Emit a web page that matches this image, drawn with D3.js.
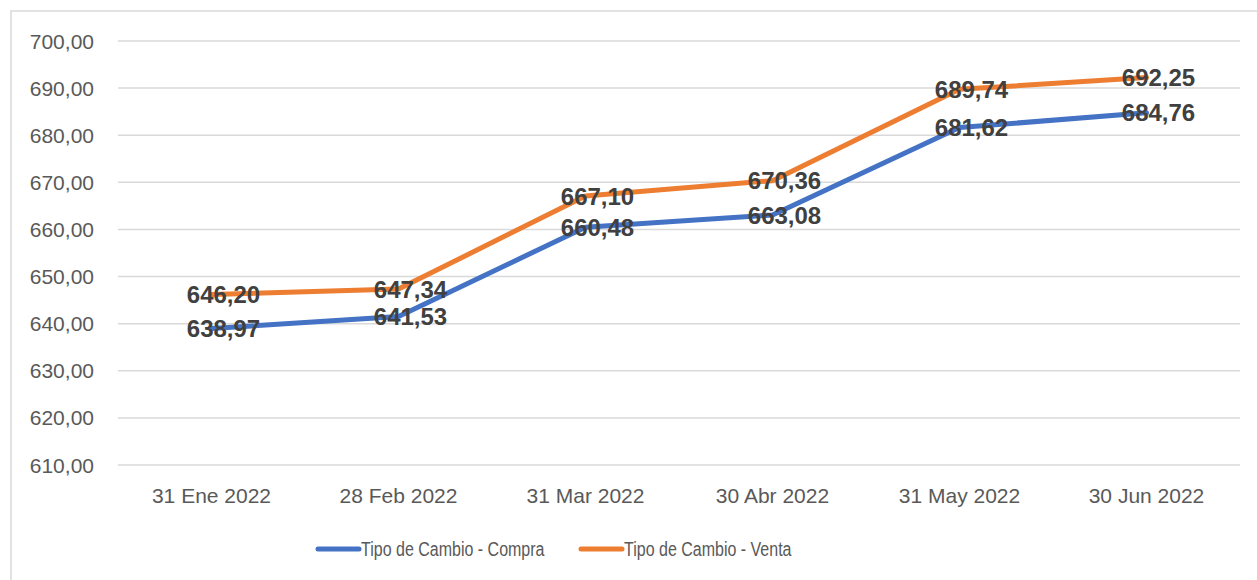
<!DOCTYPE html>
<html>
<head>
<meta charset="utf-8">
<script src="https://cdn.jsdelivr.net/npm/d3@7"></script>
<style>
  body { margin: 0; background: #fff; }
  svg { display: block; }
</style>
</head>
<body>
<div id="chart"></div>
<script>
var categories = ["31 Ene 2022", "28 Feb 2022", "31 Mar 2022", "30 Abr 2022", "31 May 2022", "30 Jun 2022"];
var compra = [638.97, 641.53, 660.48, 663.08, 681.62, 684.76];
var venta = [646.20, 647.34, 667.10, 670.36, 689.74, 692.25];
var yTicks = [610, 620, 630, 640, 650, 660, 670, 680, 690, 700];
var seriesNames = ["Tipo de Cambio - Compra", "Tipo de Cambio - Venta"];
var seriesColors = ["#4472C4", "#ED7D31"];

var width = 1257,
    height = 580;

var svg = d3.select("#chart")
    .append("svg")
    .attr("width", width)
    .attr("height", height);

// chart frame
svg.append("rect")
    .attr("x", 11).attr("y", 11)
    .attr("width", width + 20).attr("height", height + 20)
    .attr("fill", "none")
    .attr("stroke", "#D9D9D9")
    .attr("stroke-width", 1.5);

var plotLeft = 118, plotRight = 1240, plotTop = 41, plotBottom = 465;

var xScale = d3.scaleBand()
    .domain(categories)
    .range([plotLeft, plotRight]);

var yScale = d3.scaleLinear()
    .domain([610, 700])
    .range([plotBottom, plotTop]);

// gridlines
svg.append("g")
    .selectAll("line")
    .data(yTicks)
    .enter().append("line")
    .attr("x1", plotLeft).attr("x2", plotRight)
    .attr("y1", function (d) { return yScale(d); })
    .attr("y2", function (d) { return yScale(d); })
    .attr("stroke", "#D9D9D9")
    .attr("stroke-width", 1.5);

var fmt = function (v) { return d3.format(".2f")(v).replace(".", ","); };

// y labels
svg.append("g")
    .selectAll("text")
    .data(yTicks)
    .enter().append("text")
    .attr("x", 94)
    .attr("y", function (d) { return yScale(d); })
    .attr("dy", "0.36em")
    .attr("text-anchor", "end")
    .attr("font-family", "Liberation Sans, Arial, sans-serif")
    .attr("font-size", 21)
    .attr("fill", "#595959")
    .text(fmt);

// x labels
svg.append("g")
    .selectAll("text")
    .data(categories)
    .enter().append("text")
    .attr("x", function (d) { return xScale(d) + xScale.bandwidth() / 2; })
    .attr("y", 503)
    .attr("text-anchor", "middle")
    .attr("font-family", "Liberation Sans, Arial, sans-serif")
    .attr("font-size", 21)
    .attr("fill", "#595959")
    .text(function (d) { return d; });

var lineFunction = d3.line()
    .x(function (d, i) { return xScale(categories[i]) + xScale.bandwidth() / 2; })
    .y(function (d) { return yScale(d); });

[compra, venta].forEach(function (data, s) {
    svg.append("path")
        .attr("d", lineFunction(data))
        .attr("fill", "none")
        .attr("stroke", seriesColors[s])
        .attr("stroke-width", 5)
        .attr("stroke-linejoin", "round")
        .attr("stroke-linecap", "round");
});

// data labels
[compra, venta].forEach(function (data) {
    svg.append("g")
        .selectAll("text")
        .data(data)
        .enter().append("text")
        .attr("x", function (d, i) { return xScale(categories[i]) + xScale.bandwidth() / 2 + 12; })
        .attr("y", function (d) { return yScale(d); })
        .attr("dy", "0.36em")
        .attr("text-anchor", "middle")
        .attr("font-family", "Liberation Sans, Arial, sans-serif")
        .attr("font-weight", "bold")
        .attr("font-size", 24)
        .attr("fill", "#404040")
        .text(fmt);
});

// legend (text squeezed a bit, narrow font look)
var legendX = [318, 581];
seriesNames.forEach(function (name, s) {
    var g = svg.append("g").attr("transform", "translate(" + legendX[s] + ",549)");
    g.append("line")
        .attr("x1", 0).attr("x2", 41)
        .attr("stroke", seriesColors[s])
        .attr("stroke-width", 5)
        .attr("stroke-linecap", "round");
    var t = g.append("text")
        .attr("x", 43)
        .attr("dy", "0.36em")
        .attr("font-family", "Liberation Sans, Arial, sans-serif")
        .attr("font-size", 20)
        .attr("fill", "#595959")
        .text(name);
    var len = t.node().getComputedTextLength();
    t.attr("textLength", len * 0.8).attr("lengthAdjust", "spacingAndGlyphs");
});
</script>
</body>
</html>
